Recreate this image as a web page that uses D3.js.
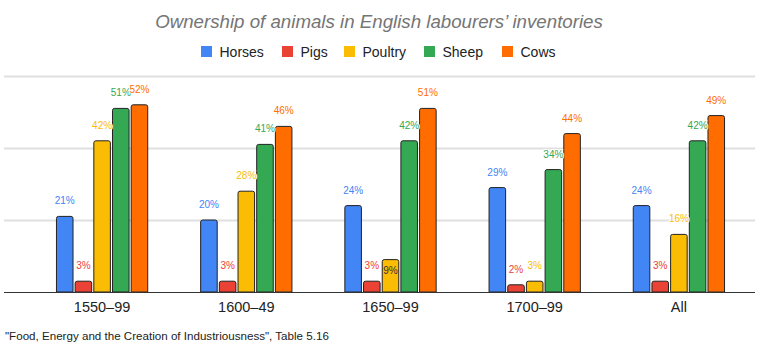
<!DOCTYPE html>
<html><head><meta charset="utf-8">
<script src="https://cdn.jsdelivr.net/npm/d3@7"></script>
<style>body{margin:0;background:#fff}svg{display:block;font-family:Arial,"Liberation Sans",sans-serif}</style>
</head><body><svg id="c" width="760" height="346"></svg>
<script>
const categories = ["1550–99","1600–49","1650–99","1700–99","All"];
const seriesNames = ["Horses","Pigs","Poultry","Sheep","Cows"];
const seriesColors = ["#4285F4","#EA4335","#FBBC04","#34A853","#FF6D01"];
const horses = [21,20,24,29,24];
const pigs = [3,3,3,2,3];
const poultry = [42,28,9,3,16];
const sheep = [51,41,42,34,42];
const cows = [52,46,51,44,49];
const yTicks = [0,20,40,60];
const title = "Ownership of animals in English labourers’ inventories";
const source = "\"Food, Energy and the Creation of Industriousness\", Table 5.16";

const values = [horses,pigs,poultry,sheep,cows];
const svg = d3.select("#c");
const y = d3.scaleLinear().domain([0,60]).range([292,76]);
const x0 = d3.scaleBand().domain(categories).range([30,751]).paddingInner(0.36).paddingOuter(0.18);
const x1 = d3.scaleBand().domain(seriesNames).range([0,x0.bandwidth()]).paddingInner(0.06);

// gridlines
svg.append("g").selectAll("line").data(yTicks.slice(1)).join("line")
  .attr("x1",4).attr("x2",755).attr("y1",d=>Math.round(y(d))+0.5).attr("y2",d=>Math.round(y(d))+0.5)
  .attr("stroke","#e0e0e0").attr("stroke-width",2);

// title
svg.append("text").attr("x",379).attr("y",28).attr("text-anchor","middle")
  .attr("font-size",18.7).attr("font-style","italic").attr("fill","#757575").text(title);

// legend
const legX = [201,282,344,424,502];
const lg = svg.append("g").selectAll("g").data(seriesNames).join("g")
  .attr("transform",(d,i)=>`translate(${legX[i]},46)`);
lg.append("rect").attr("width",11).attr("height",11).attr("fill",(d,i)=>seriesColors[i]);
lg.append("text").attr("x",18.5).attr("y",10.5).attr("font-size",14).attr("fill","#222").text(d=>d);

// bars
const rr = 2;
function barPath(x,w,yt,yb){
  return `M${x},${yb}V${yt+rr}Q${x},${yt} ${x+rr},${yt}H${x+w-rr}Q${x+w},${yt} ${x+w},${yt+rr}V${yb}Z`;
}
const groups = svg.append("g").selectAll("g").data(categories).join("g")
  .attr("transform",d=>`translate(${x0(d)},0)`);
groups.each(function(cat,ci){
  const g = d3.select(this);
  seriesNames.forEach((s,si)=>{
    const v = values[si][ci];
    const bx = x1(s)+0.5, bw = x1.bandwidth()-1;
    g.append("path").attr("d",barPath(bx,bw,y(v),292))
      .attr("fill",seriesColors[si]).attr("stroke","#222").attr("stroke-width",1);
  });
  seriesNames.forEach((s,si)=>{
    const v = values[si][ci];
    const cx = x1(s)+x1.bandwidth()/2;
    const inside = (s==="Poultry" && v===9);
    g.append("text").attr("x",cx).attr("y",inside? y(v)+14 : y(v)-12)
      .attr("text-anchor","middle").attr("font-size",10)
      .attr("fill",inside? "#333" : seriesColors[si])
      .attr("stroke",inside? "none":"#fff").attr("stroke-width",2).attr("paint-order","stroke")
      .text(v+"%");
  });
});

// baseline
svg.append("line").attr("x1",4).attr("x2",755).attr("y1",292.5).attr("y2",292.5).attr("stroke","#333").attr("stroke-width",1);

// x axis labels
svg.append("g").selectAll("text").data(categories).join("text")
  .attr("x",d=>x0(d)+x0.bandwidth()/2).attr("y",312).attr("text-anchor","middle")
  .attr("font-size",14.5).attr("fill","#222").text(d=>d);

// source
svg.append("text").attr("x",5).attr("y",340).attr("font-size",11.6).attr("fill","#222").text(source);
</script></body></html>
